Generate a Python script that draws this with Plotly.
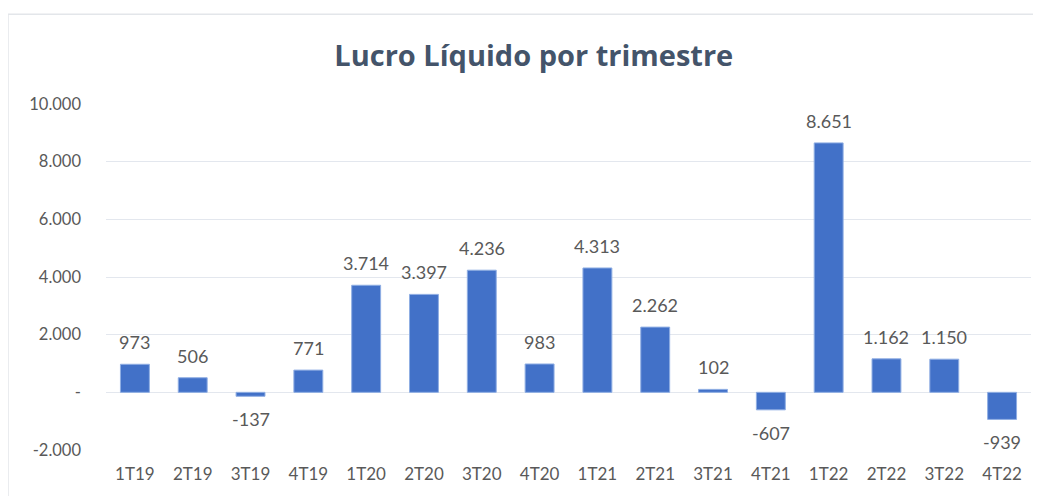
import plotly.graph_objects as go

categories = ["1T19", "2T19", "3T19", "4T19", "1T20", "2T20", "3T20", "4T20",
              "1T21", "2T21", "3T21", "4T21", "1T22", "2T22", "3T22", "4T22"]
lucro = [973, 506, -137, 771, 3714, 3397, 4236, 983,
         4313, 2262, 102, -607, 8651, 1162, 1150, -939]
tick_values = [-2000, 0, 2000, 4000, 6000, 8000, 10000]
tick_labels = ["-2.000", "-", "2.000", "4.000", "6.000", "8.000", "10.000"]

def fmt(v):
    return f"{v:,}".replace(",", ".")

FONT = "Lato, Open Sans, sans-serif"

fig = go.Figure()
fig.add_trace(go.Bar(
    x=categories, y=lucro,
    marker=dict(color="#4271C8", line=dict(color="#8FAEE3", width=1)),
    width=0.5,
    hoverinfo="x+y",
))

annotations = []
for c, v in zip(categories, lucro):
    annotations.append(dict(
        x=c, y=v, text=fmt(v), showarrow=False,
        yanchor="bottom" if v >= 0 else "top",
        yshift=9 if v >= 0 else -10,
        font=dict(family=FONT, size=18, color="#595959"),
    ))

fig.update_layout(
    width=1033, height=488,
    margin=dict(l=98, r=10, t=96, b=46),
    paper_bgcolor="white", plot_bgcolor="white",
    showlegend=False,
    title=dict(text="<b>Lucro Líquido por trimestre</b>", x=0.509, xanchor="center",
               y=(488 - 48) / 488, yanchor="middle",
               font=dict(family="Open Sans, sans-serif", size=29, color="#44546A")),
    xaxis=dict(showgrid=False, showline=False, ticks="", zeroline=False,
               tickfont=dict(family=FONT, size=17, color="#595959"), ticklabelstandoff=12),
    yaxis=dict(range=[-2000, 10000], tickvals=tick_values, ticktext=tick_labels,
               showgrid=True, gridcolor="#E3E7EE", gridwidth=1.3,
               zeroline=True, zerolinecolor="#E3E7EE", zerolinewidth=1.3,
               showline=False, ticks="",
               tickfont=dict(family=FONT, size=16.5, color="#595959"), ticklabelstandoff=24),
    annotations=annotations,
    shapes=[dict(type="rect", xref="paper", yref="paper",
                 x0=(0 - 98) / 925, x1=1.05, y0=-0.2, y1=(449.5 - 15) / 345,
                 line=dict(color="#E3E6EA", width=1.5), fillcolor="rgba(0,0,0,0)", layer="below")],
)

fig.write_html("out.html")
